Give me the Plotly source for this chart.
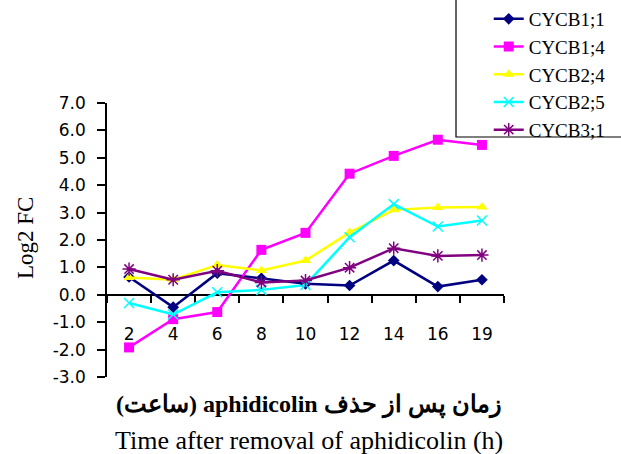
import plotly.graph_objects as go

hours = ["2", "4", "6", "8", "10", "12", "14", "16", "19"]
cycb1_1 = [0.65, -0.45, 0.79, 0.60, 0.40, 0.34, 1.25, 0.30, 0.55]
cycb1_4 = [-1.92, -0.89, -0.63, 1.64, 2.26, 4.42, 5.07, 5.66, 5.47]
cycb2_4 = [0.63, 0.55, 1.09, 0.89, 1.25, 2.27, 3.10, 3.19, 3.20]
cycb2_5 = [-0.30, -0.72, 0.09, 0.18, 0.36, 2.10, 3.31, 2.49, 2.71]
cycb3_1 = [0.94, 0.55, 0.88, 0.45, 0.52, 0.99, 1.70, 1.42, 1.45]
y_tick_vals = [-3, -2, -1, 0, 1, 2, 3, 4, 5, 6, 7]
y_tick_text = ["-3.0", "-2.0", "-1.0", "0.0", "1.0", "2.0", "3.0", "4.0", "5.0", "6.0", "7.0"]

series = [
    ("CYCB1;1", cycb1_1, "#000080", "diamond", 9, 0),
    ("CYCB1;4", cycb1_4, "#FF00FF", "square", 10, 0),
    ("CYCB2;4", cycb2_4, "#FFFF00", "triangle-up", 10, 0),
    ("CYCB2;5", cycb2_5, "#00FFFF", "x-thin", 10, 1.5),
    ("CYCB3;1", cycb3_1, "#800080", "asterisk", 11, 1.5),
]

fig = go.Figure()
for i, (name, vals, col, sym, sz, lw) in enumerate(series):
    fig.add_trace(go.Scatter(
        x=hours, y=vals, name=name, mode="lines+markers",
        line=dict(color=col, width=2.5),
        marker=dict(symbol=sym, size=sz, color=col, line=dict(color=col, width=lw)),
        legendgroup=f"g{i}",
    ))

serif = "Liberation Serif"
sans = "DejaVu Sans"

fig.update_layout(
    width=621, height=454,
    margin=dict(l=107, r=117, t=103, b=77, autoexpand=False),
    paper_bgcolor="white", plot_bgcolor="white",
    showlegend=True,
    legend=dict(
        xref="container", yref="container",
        x=0.787, y=1.0, xanchor="left", yanchor="top",
        font=dict(family=serif, size=19, color="black"),
        bgcolor="rgba(0,0,0,0)", tracegroupgap=0,
    ),
    xaxis=dict(
        type="category", range=[-0.5, 8.5],
        anchor="free", position=0.3,
        showline=True, linecolor="black", linewidth=1.5,
        ticks="outside", ticklen=7, tickcolor="black", tickwidth=1.5,
        tickson="boundaries", showgrid=False, zeroline=False,
        tickfont=dict(family=sans, size=17, color="black"),
        ticklabelstandoff=24, layer="below traces",
    ),
    yaxis=dict(
        range=[-3, 7], tickmode="array", tickvals=y_tick_vals, ticktext=y_tick_text,
        showline=True, linecolor="black", linewidth=1.5,
        ticks="outside", ticklen=8, tickcolor="black", tickwidth=1.5,
        showgrid=False, zeroline=False,
        tickfont=dict(family=sans, size=17, color="black"),
        ticklabelstandoff=8, layer="below traces",
    ),
    shapes=[dict(type="rect", xref="paper", yref="paper",
                 x0=0.8791, y0=0.8759, x1=2, y1=2,
                 line=dict(color="black", width=1.2), fillcolor="rgba(0,0,0,0)")],
    annotations=[
        dict(text="Log2 FC", xref="paper", yref="paper", x=-0.2065, y=0.507,
             xanchor="center", yanchor="middle",
             textangle=-90, showarrow=False,
             font=dict(family=serif, size=23, color="black")),
        dict(text="\u202bزمان پس از حذف aphidicolin (ساعت)\u202c", xref="paper", yref="paper",
             x=0.509, y=-0.102, xanchor="center", yanchor="middle", showarrow=False,
             font=dict(family=serif, size=24, color="black", weight="bold")),
        dict(text="Time after removal of aphidicolin (h)", xref="paper", yref="paper",
             x=0.509, y=-0.23, xanchor="center", yanchor="middle", showarrow=False,
             font=dict(family=serif, size=26, color="black")),
    ],
)

fig.write_html("out.html", config={"displayModeBar": False},
               post_script="document.body.style.margin='0';")
